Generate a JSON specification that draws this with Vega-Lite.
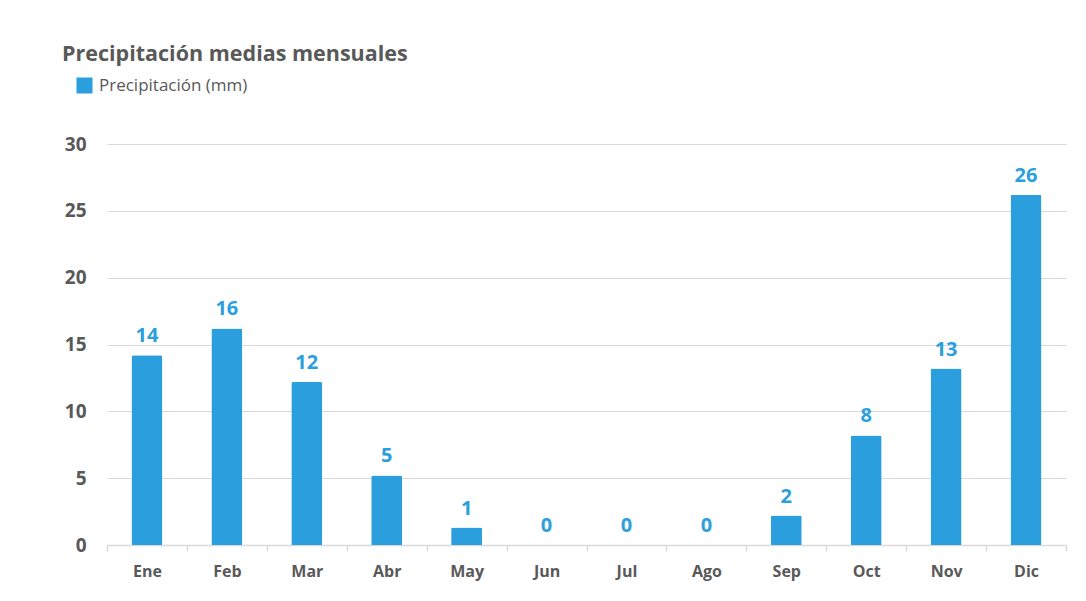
{
  "$schema": "https://vega.github.io/schema/vega-lite/v6.json",
  "width": 959,
  "height": 401,
  "autosize": {"type": "none"},
  "padding": {"left": 107, "top": 144, "right": 20, "bottom": 56},
  "background": "white",
  "title": {
    "text": "Precipitación medias mensuales",
    "anchor": "start",
    "frame": "group",
    "orient": "top",
    "offset": 0,
    "dx": -45,
    "dy": -12,
    "fontSize": 21.5,
    "fontWeight": "bold",
    "color": "#595959",
    "font": "Open Sans"
  },
  "data": {
    "values": [
      {"mes": "Ene", "precip": 14.2, "serie": "Precipitación (mm)"},
      {"mes": "Feb", "precip": 16.2, "serie": "Precipitación (mm)"},
      {"mes": "Mar", "precip": 12.2, "serie": "Precipitación (mm)"},
      {"mes": "Abr", "precip": 5.2, "serie": "Precipitación (mm)"},
      {"mes": "May", "precip": 1.3, "serie": "Precipitación (mm)"},
      {"mes": "Jun", "precip": 0, "serie": "Precipitación (mm)"},
      {"mes": "Jul", "precip": 0, "serie": "Precipitación (mm)"},
      {"mes": "Ago", "precip": 0, "serie": "Precipitación (mm)"},
      {"mes": "Sep", "precip": 2.2, "serie": "Precipitación (mm)"},
      {"mes": "Oct", "precip": 8.2, "serie": "Precipitación (mm)"},
      {"mes": "Nov", "precip": 13.2, "serie": "Precipitación (mm)"},
      {"mes": "Dic", "precip": 26.2, "serie": "Precipitación (mm)"}
    ]
  },
  "encoding": {
    "x": {
      "field": "mes",
      "type": "nominal",
      "sort": null,
      "scale": {"paddingInner": 0, "paddingOuter": 0},
      "axis": {
        "title": null,
        "labelAngle": 0,
        "tickBand": "extent",
        "ticks": true,
        "tickSize": 6,
        "tickColor": "#d9d9d9",
        "tickWidth": 1.5,
        "domainColor": "#d9d9d9",
        "domainWidth": 1.5,
        "labelPadding": 12,
        "labelFontSize": 16,
        "labelFontWeight": "bold",
        "labelColor": "#595959",
        "labelFont": "Open Sans",
        "grid": false
      }
    },
    "y": {
      "field": "precip",
      "type": "quantitative",
      "scale": {"domain": [0, 30], "nice": false},
      "axis": {
        "title": null,
        "values": [0, 5, 10, 15, 20, 25, 30],
        "domain": false,
        "ticks": false,
        "labelPadding": 21,
        "labelFontSize": 19,
        "labelFontWeight": "bold",
        "labelColor": "#595959",
        "labelFont": "Open Sans",
        "gridColor": "#d9d9d9",
        "gridWidth": 1.2
      }
    }
  },
  "layer": [
    {
      "mark": {"type": "bar", "size": 31, "cornerRadiusTopLeft": 2, "cornerRadiusTopRight": 2},
      "encoding": {
        "color": {
          "field": "serie",
          "type": "nominal",
          "scale": {"range": ["#2b9fde"]},
          "legend": {
            "title": null,
            "orient": "none",
            "legendX": -31,
            "legendY": -67,
            "symbolType": "square",
            "symbolSize": 256,
            "symbolStrokeWidth": 0,
            "labelFontSize": 17,
            "labelColor": "#595959",
            "labelFont": "Open Sans",
            "labelOffset": 6
          }
        }
      }
    },
    {
      "mark": {"type": "text", "baseline": "alphabetic", "dy": -13, "fontSize": 20, "fontWeight": "bold", "color": "#2b9fde", "font": "Open Sans"},
      "encoding": {
        "text": {"field": "precip", "type": "quantitative", "format": ".0f"}
      }
    }
  ],
  "config": {
    "view": {"stroke": null},
    "font": "Open Sans"
  }
}
